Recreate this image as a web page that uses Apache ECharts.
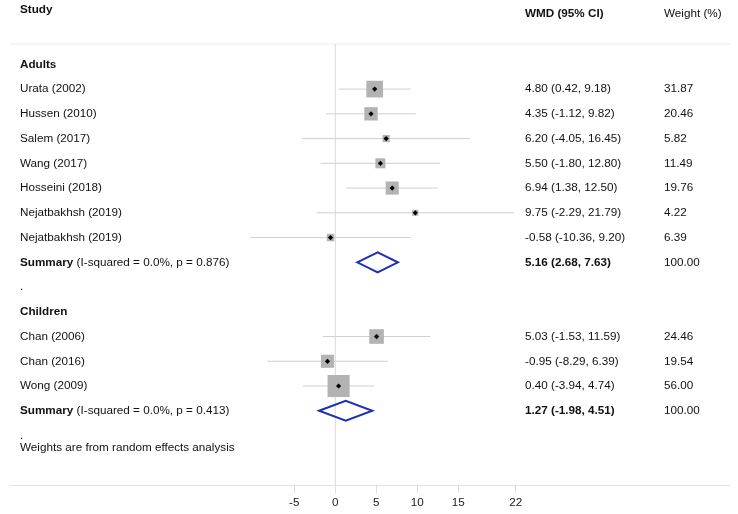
<!DOCTYPE html>
<html><head><meta charset="utf-8">
<script src="https://cdn.jsdelivr.net/npm/echarts@6/dist/echarts.min.js"></script>
<style>html,body{margin:0;padding:0;background:#fff}#c{width:738px;height:514px}</style>
</head><body><div id="c"></div>
<script>
// ---- data ----
const adultsStudies = ['Urata (2002)','Hussen (2010)','Salem (2017)','Wang (2017)','Hosseini (2018)','Nejatbakhsh (2019)','Nejatbakhsh (2019)'];
const adultsWMD = [4.80, 4.35, 6.20, 5.50, 6.94, 9.75, -0.58];
const adultsLo = [0.42, -1.12, -4.05, -1.80, 1.38, -2.29, -10.36];
const adultsHi = [9.18, 9.82, 16.45, 12.80, 12.50, 21.79, 9.20];
const adultsWeight = [31.87, 20.46, 5.82, 11.49, 19.76, 4.22, 6.39];
const adultsSummary = [5.16, 2.68, 7.63];
const adultsHet = '(I-squared = 0.0%, p = 0.876)';

const childrenStudies = ['Chan (2006)','Chan (2016)','Wong (2009)'];
const childrenWMD = [5.03, -0.95, 0.40];
const childrenLo = [-1.53, -8.29, -3.94];
const childrenHi = [11.59, 6.39, 4.74];
const childrenWeight = [24.46, 19.54, 56.00];
const childrenSummary = [1.27, -1.98, 4.51];
const childrenHet = '(I-squared = 0.0%, p = 0.413)';

const xTicks = [-5, 0, 5, 10, 15, 22];
const noteText = 'Weights are from random effects analysis';

// ---- build rows ----
const rows = [];
function addGroup(name, studies, wmd, lo, hi, w, summ, het) {
  rows.push({type:'group', text:name});
  studies.forEach((s,i)=>rows.push({type:'study', text:s, est:wmd[i], lo:lo[i], hi:hi[i], w:w[i]}));
  rows.push({type:'summary', het:het, est:summ[0], lo:summ[1], hi:summ[2], w:100});
  rows.push({type:'dot'});
}
addGroup('Adults', adultsStudies, adultsWMD, adultsLo, adultsHi, adultsWeight, adultsSummary, adultsHet);
addGroup('Children', childrenStudies, childrenWMD, childrenLo, childrenHi, childrenWeight, childrenSummary, childrenHet);
rows.push({type:'note', text:noteText});
rows.forEach((r,i)=>{ r.row = i - 1; });
rows[rows.length-1].row = rows[rows.length-2].row + 0.5;

const FONT = '"Liberation Sans", Arial, sans-serif';
const FS = 11.7;
const COL_STUDY = 20, COL_WMD = 525, COL_W = 664;

function txt(x, y, text, bold) {
  return {type:'text', style:{x, y, text, fill:'#111', font: (bold?'bold ':'') + FS + 'px ' + FONT, textVerticalAlign:'middle', verticalAlign:'middle'}};
}

function renderRow(params, api) {
  const r = rows[api.value(2)];
  const y = api.coord([0, r.row])[1];
  const ch = [];
  if (r.type === 'group') {
    ch.push(txt(COL_STUDY, y, r.text, true));
  } else if (r.type === 'dot' || r.type === 'note') {
    ch.push(txt(COL_STUDY, y, r.type === 'dot' ? '.' : r.text, false));
  } else if (r.type === 'study') {
    const xl = api.coord([r.lo, r.row])[0], xh = api.coord([r.hi, r.row])[0], xe = api.coord([r.est, r.row])[0];
    ch.push({type:'line', shape:{x1:xl, y1:y, x2:xh, y2:y}, style:{stroke:'#d0d0d0', lineWidth:1}});
    const s = 2.95 * Math.sqrt(r.w);
    ch.push({type:'rect', shape:{x:xe - s/2, y:y - s/2, width:s, height:s}, style:{fill:'#b3b3b3'}});
    ch.push({type:'polygon', shape:{points:[[xe-2.6,y],[xe,y-2.6],[xe+2.6,y],[xe,y+2.6]]}, style:{fill:'#000'}});
    ch.push(txt(COL_STUDY, y, r.text, false));
    ch.push(txt(COL_WMD, y, r.est.toFixed(2) + ' (' + r.lo.toFixed(2) + ', ' + r.hi.toFixed(2) + ')', false));
    ch.push(txt(COL_W, y, r.w.toFixed(2), false));
  } else if (r.type === 'summary') {
    const xl = api.coord([r.lo, r.row])[0], xh = api.coord([r.hi, r.row])[0], xe = api.coord([r.est, r.row])[0];
    ch.push({type:'polygon', shape:{points:[[xl,y],[xe,y-10],[xh,y],[xe,y+10]]}, style:{fill:'none', stroke:'#1f2fb4', lineWidth:2}});
    ch.push({type:'text', style:{x:COL_STUDY, y, text:'{b|Summary} {n|' + r.het + '}', verticalAlign:'middle', rich:{b:{fontWeight:'bold', fontSize:FS, fontFamily:FONT, fill:'#111'}, n:{fontSize:FS, fontFamily:FONT, fill:'#111'}}}});
    ch.push(txt(COL_WMD, y, r.est.toFixed(2) + ' (' + r.lo.toFixed(2) + ', ' + r.hi.toFixed(2) + ')', true));
    ch.push(txt(COL_W, y, r.w.toFixed(2), false));
  }
  return {type:'group', children:ch};
}

function renderDecor(params, api) {
  const x0 = api.coord([0, 0])[0];
  const cs = params.coordSys;
  return {type:'group', children:[
    {type:'line', shape:{x1:cs.x, y1:44, x2:730, y2:44}, style:{stroke:'#ececec', lineWidth:1}},
    {type:'line', shape:{x1:x0, y1:44, x2:x0, y2:cs.y + cs.height}, style:{stroke:'#d9d9d9', lineWidth:1}},
    txt(COL_STUDY, 10, 'Study', true),
    txt(COL_WMD, 14, 'WMD (95% CI)', true),
    txt(COL_W, 14, 'Weight (%)', false)
  ]};
}

const chart = echarts.init(document.getElementById('c'), null, {renderer:'canvas'});
chart.setOption({
  animation:false,
  grid:{left:10, right:8, top:0, bottom:29},
  xAxis:{type:'value', min:-39.67, max:48.13, splitLine:{show:false},
    axisLine:{show:true, onZero:false, lineStyle:{color:'#e3e3e3'}},
    axisTick:{show:true, customValues:xTicks, length:8, lineStyle:{color:'#dcdcdc'}},
    axisLabel:{customValues:xTicks, color:'#222', fontSize:FS, fontFamily:FONT, margin:12}},
  yAxis:{type:'value', inverse:true, min:-3.6, max:16, show:false},
  series:[
    {type:'custom', renderItem:renderDecor, clip:false, data:[[0,0,0]], z:1},
    {type:'custom', renderItem:renderRow, clip:false, data:rows.map((r,i)=>[0, r.row, i]), z:2}
  ]
});
</script></body></html>
